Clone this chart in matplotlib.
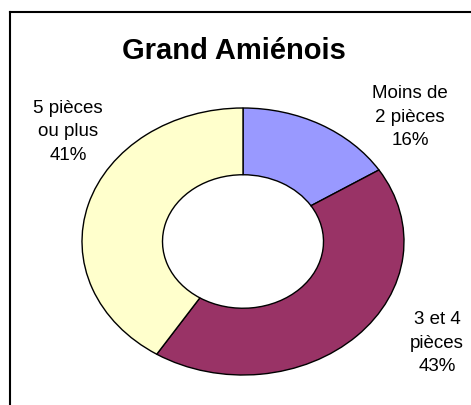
import matplotlib
matplotlib.use("Agg")
import matplotlib.pyplot as plt
from matplotlib.lines import Line2D

title = "Grand Amiénois"
labels = ["Moins de\n2 pièces", "3 et 4\npièces", "5 pièces\nou plus"]
shares = [16, 43, 41]
colors = ["#9999FF", "#993366", "#FFFFCC"]

W, H = 471, 405
plt.rcParams["font.family"] = ["Liberation Sans", "DejaVu Sans"]
fig = plt.figure(figsize=(W / 100, H / 100), dpi=100)

# outer frame: only top and left edges are visible in the original (cropped)
x0, y0 = 10 / W, 1 - 12 / H
fig.add_artist(Line2D([x0, 1.0], [y0, y0], transform=fig.transFigure,
                      color="black", linewidth=1.5, solid_capstyle="projecting"))
fig.add_artist(Line2D([x0, x0], [y0, 0.0], transform=fig.transFigure,
                      color="black", linewidth=1.5, solid_capstyle="projecting"))

# donut is stretched horizontally in the source, so use a non-square axes
ax = fig.add_axes([82 / W, 30 / H, 322 / W, 267 / H])
wedges, _ = ax.pie(shares, colors=colors, startangle=90, counterclock=False,
                   radius=1.0, wedgeprops=dict(width=0.5, edgecolor="black",
                                               linewidth=1.0))
for w in wedges:
    w.set_clip_on(False)
ax.set_aspect("auto")
ax.set_xlim(-1, 1)
ax.set_ylim(-1, 1)
ax.axis("off")

fig.text(234 / W, 1 - 51 / H, title, ha="center", va="center",
         fontsize=21, fontweight="bold")

label_pos = [(410, 117), (437, 343), (68, 132)]
for (x, y), lab, s in zip(label_pos, labels, shares):
    fig.text(x / W, 1 - y / H, f"{lab}\n{s}%", ha="center", va="center",
             fontsize=13.5, linespacing=1.5)

fig.savefig("out.png", dpi=100)
